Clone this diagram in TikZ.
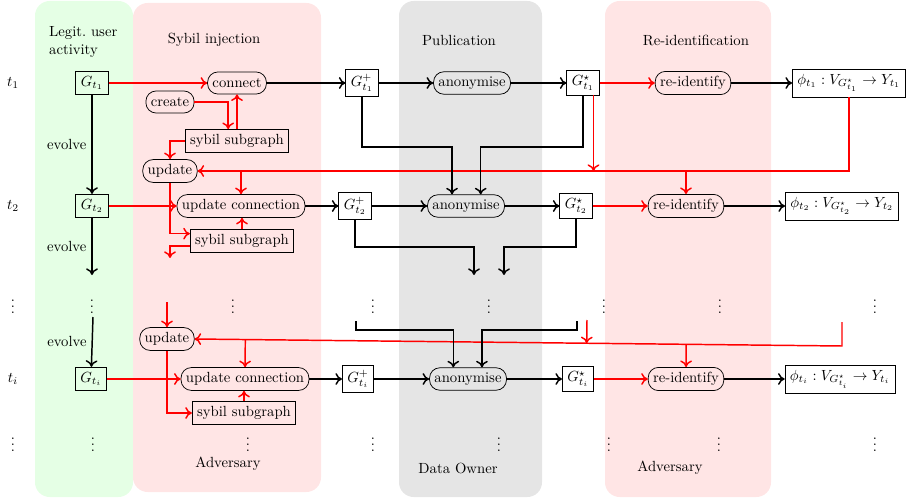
\documentclass[tikz,border=0pt]{standalone}
\usetikzlibrary{calc,arrows.meta}
\begin{document}
\begin{tikzpicture}[x=0.68pt,y=-0.68pt,
		gbox/.style={draw,line width=0.5pt},
		opnode/.style={draw,line width=0.5pt,rounded corners=7pt,minimum height=15pt},
		flow/.style={-{To[length=4.5pt,width=8pt]},line width=1pt},
		rflow/.style={flow,red},
		dotsnode/.style={inner sep=0pt}]
		\useasboundingbox (0,0) rectangle (916,498);

		\fill[green!10,rounded corners=10pt] (35,1) rectangle (133,497);
		\fill[red!10,rounded corners=10pt] (133,3) rectangle (321,492);
		\fill[gray!20,rounded corners=10pt] (399,1) rectangle (542,497);
		\fill[red!10,rounded corners=10pt] (605,1) rectangle (771,497);

		\node[align=left,anchor=west] (hlegit) at (44,42) {Legit.\ user\\activity};
		\node (hsybil) at (214,40) {Sybil injection};
		\node (hpub) at (459,40) {Publication};
		\node (hreid) at (696,40) {Re-identification};
		\node (fadv1) at (228,464) {Adversary};
		\node (fowner) at (458,468) {Data Owner};
		\node (fadv2) at (670,468) {Adversary};

		\node (t1) at (13,83) {$t_1$};
		\node (t2) at (13,206) {$t_2$};
		\node (ti) at (13,379) {$t_i$};

		\foreach \x [count=\k] in {13,92,233,373,489,604,720,875}
			\node[dotsnode] (da\k) at (\x,302) {$\vdots$};
		\foreach \x [count=\k] in {13,93,248,373,499,609,719,875}
			\node[dotsnode] (db\k) at (\x,440) {$\vdots$};

		\node[gbox] (g1) at (92,83) {$G_{t_1}$};
		\node[opnode] (connect) at (237,83) {connect};
		\node[gbox] (gp1) at (362,83) {$G^+_{t_1}$};
		\node[opnode] (anon1) at (472,83) {anonymise};
		\node[gbox] (gs1) at (583,83) {$G^\star_{t_1}$};
		\node[opnode] (reid1) at (693,83) {re-identify};
		\node[gbox] (phi1) at (849,83) {$\phi_{t_1} : V_{G^\star_{t_1}} \rightarrow Y_{t_1}$};
		\node[opnode] (create) at (170,102) {create};
		\node[gbox] (sub1) at (237,141) {sybil subgraph};
		\node[opnode] (upd1) at (170,171) {update};

		\node[gbox] (g2) at (92,206) {$G_{t_2}$};
		\node[opnode] (updc2) at (241,206) {update connection};
		\node[gbox] (sub2) at (242,241) {sybil subgraph};
		\node[gbox] (gp2) at (355,206) {$G^+_{t_2}$};
		\node[opnode] (anon2) at (466,206) {anonymise};
		\node[gbox] (gs2) at (576,206) {$G^\star_{t_2}$};
		\node[opnode] (reid2) at (686,206) {re-identify};
		\node[gbox] (phi2) at (842,206) {$\phi_{t_2} : V_{G^\star_{t_2}} \rightarrow Y_{t_2}$};

		\node[gbox] (gi) at (91,379) {$G_{t_i}$};
		\node[opnode] (updi) at (167,339) {update};
		\node[opnode] (updci) at (245,379) {update connection};
		\node[gbox] (subi) at (244,413) {sybil subgraph};
		\node[gbox] (gpi) at (358,379) {$G^+_{t_i}$};
		\node[opnode] (anoni) at (468,379) {anonymise};
		\node[gbox] (gsi) at (578,379) {$G^\star_{t_i}$};
		\node[opnode] (reidi) at (686,379) {re-identify};
		\node[gbox] (phii) at (840,379) {$\phi_{t_i} : V_{G^\star_{t_i}} \rightarrow Y_{t_i}$};

		\coordinate (e2) at (92,275);
		\coordinate (ei) at (93,317);
		\coordinate (m12) at (0,147);
		\coordinate (m2) at (0,247);
		\coordinate (a2l) at (474,275);
		\coordinate (a2r) at (504,275);
		\coordinate (s2out) at (170,258);
		\coordinate (rin) at (167,302);
		\coordinate (gs1out) at (593.5,95);
		\coordinate (bi1) at (356,321);
		\coordinate (bi2) at (577,321);
		\coordinate (mi) at (0,330);
		\coordinate (gsiin) at (587,320);
		\coordinate (pin) at (842,322);
		\coordinate (pturn) at (842,346);

		\draw[flow] (g1) -- node[left] {evolve} (g2);
		\draw[flow] (g2) -- node[left] {evolve} (e2);
		\draw[flow] (ei) -- node[left] {evolve} (gi);

		\draw[rflow] (g1) -- (connect);
		\draw[flow] (connect) -- (gp1);
		\draw[flow] (gp1) -- (anon1);
		\draw[flow] (anon1) -- (gs1);
		\draw[rflow] (gs1) -- (reid1);
		\draw[flow] (reid1) -- (phi1);
		\draw[rflow] (create) -| ([xshift=-6pt]sub1.north);
		\draw[rflow] (sub1) -- (connect);
		\draw[rflow] (sub1.west) -| (upd1.north);
		\draw[rflow] (phi1) |- (upd1);
		\draw[rflow] (updc2.north |- upd1) -- (updc2);
		\draw[rflow] (reid2.north |- upd1) -- (reid2);
		\draw[rflow] (gs1out) -- (gs1out |- upd1);
		\draw[flow] (gp1.south) -- (gp1.south |- m12) -| ([xshift=-9.5pt]anon2.north);
		\draw[flow] (gs1.south) -- (gs1.south |- m12) -| ([xshift=10pt]anon2.north);

		\draw[rflow] (g2) -- (updc2);
		\draw[flow] (updc2) -- (gp2);
		\draw[flow] (gp2) -- (anon2);
		\draw[flow] (anon2) -- (gs2);
		\draw[rflow] (gs2) -- (reid2);
		\draw[flow] (reid2) -- (phi2);
		\draw[rflow] (upd1.south) |- ([yshift=5pt]sub2.west);
		\draw[rflow] (sub2.north) -- (sub2.north |- updc2.south);
		\draw[rflow] ([yshift=-3.5pt]sub2.west) -| (s2out);
		\draw[flow] (gp2.south) |- (a2l |- m2) -- (a2l);
		\draw[flow] (gs2.south) |- (a2r |- m2) -- (a2r);

		\draw[rflow] (rin) -- (updi);
		\draw[rflow] (gi) -- (updci);
		\draw[flow] (updci) -- (gpi);
		\draw[flow] (gpi) -- (anoni);
		\draw[flow] (anoni) -- (gsi);
		\draw[rflow] (gsi) -- (reidi);
		\draw[flow] (reidi) -- (phii);
		\draw[rflow] (updi.south) |- (subi.west);
		\draw[rflow] (subi.north) -- (subi.north |- updci.south);
		\draw[rflow] (pin) -- (pturn) -- (updi.east);
		\draw[rflow] ($(updi.east)!(updci.north)!(pturn)$) -- (updci);
		\draw[rflow] ($(updi.east)!(reidi.north)!(pturn)$) -- (reidi);
		\draw[rflow] (gsiin) -- ($(updi.east)!(gsiin)!(pturn)$);
		\draw[flow] (bi1) -- (bi1 |- mi) -| ([xshift=-10pt]anoni.north);
		\draw[flow] (bi2) -- (bi2 |- mi) -| ([xshift=9.5pt]anoni.north);
	\end{tikzpicture}
\end{document}
